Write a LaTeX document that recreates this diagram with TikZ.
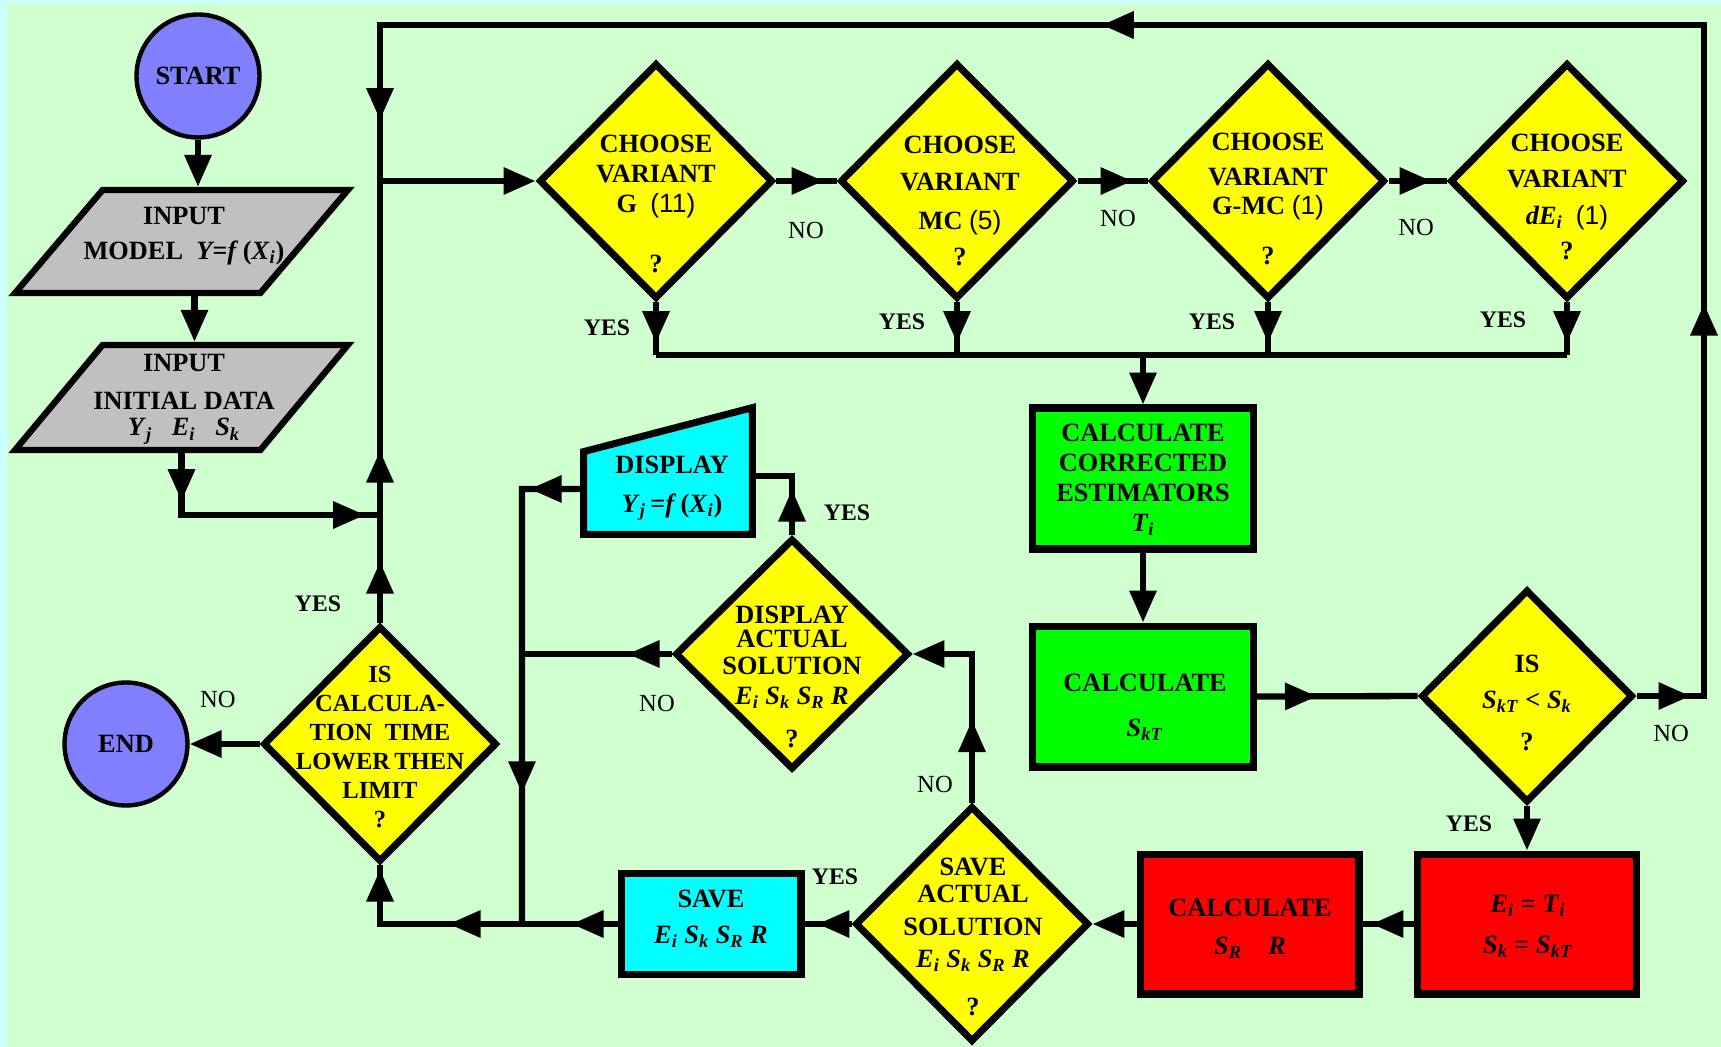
\documentclass[tikz,border=0pt]{standalone}
\usepackage{fontspec}
\setmainfont{Liberation Serif}
\newfontfamily\numfont{Liberation Sans}
\usetikzlibrary{positioning,calc,arrows.meta,shapes.geometric,decorations.markings}
\definecolor{pagecyan}{HTML}{CCFFFF}
\definecolor{pagegreen}{HTML}{D0FFD0}
\definecolor{termblue}{HTML}{8080FF}
\definecolor{inputgray}{HTML}{C0C0C0}
\definecolor{askyellow}{HTML}{FFFF00}
\definecolor{calcgreen}{HTML}{00FF00}
\definecolor{showcyan}{HTML}{00FFFF}
\definecolor{updred}{HTML}{FF0000}
\newcommand\vv[2]{\textit{#1}\textsubscript{\textit{#2}}}
\newcommand\cnt[1]{{\numfont\mdseries #1}}
\tikzset{
  flow/.style={line width=3.6pt},
  tipend/.style={-{Triangle[length=6.4mm,width=5.2mm]}},
  % arrow heads sit somewhere along the line, not only at its end
  arrowat/.style={postaction={decorate,decoration={markings,
      mark=at position #1 with {\arrow{Triangle[length=6.4mm,width=5.2mm]}}}}},
  term/.style={circle,draw,line width=2.5pt,fill=termblue,minimum size=2.46cm,inner sep=0,
               font=\fontsize{15}{17}\selectfont\bfseries},
  inbox/.style={trapezium,trapezium left angle=61,trapezium right angle=119,trapezium stretches=true,
                draw,line width=3.6pt,fill=inputgray,minimum width=6.66cm,minimum height=2.06cm,inner sep=2pt},
  ask/.style={diamond,draw,line width=4pt,fill=askyellow,minimum width=4.68cm,minimum height=4.72cm,inner sep=1pt},
  calcbox/.style={rectangle,draw,line width=4pt,fill=calcgreen,minimum width=4.42cm,minimum height=2.82cm,inner sep=1pt},
  updbox/.style={rectangle,draw,line width=4pt,fill=updred,minimum width=4.38cm,minimum height=2.8cm,inner sep=1pt},
  showbox/.style={rectangle,draw,line width=4pt,fill=showcyan,minimum width=3.6cm,minimum height=2.02cm,inner sep=1pt},
  showshape/.style={draw,line width=4pt,fill=showcyan},
  txt/.style={align=center,inner sep=0,font=\fontsize{15}{17}\selectfont\bfseries},
  yeslab/.style={font=\fontsize{13.5}{15}\selectfont\bfseries},
  nolab/.style={font=\fontsize{14}{16}\selectfont},
}
\begin{document}
\begin{tikzpicture}[x=0.02cm,y=-0.02cm]
  \useasboundingbox (0,0) rectangle (1721,1047);
  \fill[pagecyan] (0,0) rectangle (1721,1047);
  \fill[pagegreen] (7,3) rectangle (1721,1047);

  % start and input data
  \node[term] (start) at (198,76) {START};
  \node[inbox] (in1) at (181.5,241.5) {};
  \node[txt] (in1t) at (184,236) {INPUT\\[0.1cm]MODEL~~\textit{Y=f}\,(\vv{X}{i})};
  \node[inbox,minimum height=2.1cm] (in2) at (181.5,397.5) {};
  \node[txt] (in2t) at (184,399) {INPUT\\[0.16cm]INITIAL DATA\\[-0.06cm]\vv{Y}{j}~~~\vv{E}{i}~~~\vv{S}{k}};

  % variant choice
  \node[ask] (d1) at (656,181) {};
  \node[txt] (d1t) at (656,204) {CHOOSE\\VARIANT\\G~~\cnt{(11)}\\[0.6cm]?};
  \node[ask] (d2) at (957,181) {};
  \node[txt] (d2t) at (960,201) {CHOOSE\\[0.15cm]VARIANT\\[0.18cm]MC \cnt{(5)}\\[0.12cm]?};
  \node[ask] (d3) at (1268,181) {};
  \node[txt] (d3t) at (1268,199) {CHOOSE\\[0.1cm]VARIANT\\G-MC \cnt{(1)}\\[0.4cm]?};
  \node[ask] (d4) at (1567,181) {};
  \node[txt] (d4t) at (1567,197) {CHOOSE\\[0.12cm]VARIANT\\[0.14cm]\vv{dE}{i}~~\cnt{(1)}\\[0.1cm]?};

  % estimators
  \node[calcbox] (cce) at (1143,478.5) {};
  \node[txt] (ccet) at (1143,480) {CALCULATE\\CORRECTED\\ESTIMATORS\\\vv{T}{i}};
  \node[calcbox] (csk) at (1143,696.5) {};
  \node[txt] (cskt) at (1145,707) {CALCULATE\\[0.3cm]\vv{S}{kT}};
  \node[ask,minimum width=4.24cm,minimum height=4.26cm] (isd) at (1527,696) {};
  \node[txt] (isdt) at (1527,703) {IS\\[0.12cm]\vv{S}{kT} < \vv{S}{k}\\[0.26cm]?};
  \node[updbox] (red1) at (1527,924) {};
  \node[txt] (red1t) at (1528,926) {\vv{E}{i} = \vv{T}{i}\\[0.22cm]\vv{S}{k} = \vv{S}{kT}};
  \node[updbox] (red2) at (1249.5,924) {};
  \node[txt] (red2t) at (1250,929) {CALCULATE\\[0.16cm]\vv{S}{R}\quad\textit{R}};

  % save and display
  \node[ask] (saved) at (972,924) {};
  \node[txt] (savedt) at (973,937) {SAVE\\[-0.06cm]ACTUAL\\[0.06cm]SOLUTION\\[0.06cm]\vv{E}{i} \vv{S}{k} \vv{S}{R} \textit{R}\\[0.36cm]?};
  \node[showbox] (sbox) at (711,924) {};
  \node[txt] (sboxt) at (711,919) {SAVE\\[0.12cm]\vv{E}{i} \vv{S}{k} \vv{S}{R} \textit{R}};
  \node[ask,minimum height=4.62cm] (dad) at (792,654) {};
  \node[txt] (dadt) at (792,677) {DISPLAY\\[-0.12cm]ACTUAL\\[-0.06cm]SOLUTION\\\vv{E}{i} \vv{S}{k} \vv{S}{R} \textit{R}\\[0.26cm]?};
  \node[minimum width=3.36cm,minimum height=2.52cm,inner sep=0] (disp) at (668,471) {};
  \draw[showshape] (disp.south west) -- ([yshift=-0.88cm]disp.north west) -- (disp.north east) -- (disp.south east) -- cycle;
  \node[txt] (dispt) at (672,488) {DISPLAY\\[0.18cm]\vv{Y}{j}\,=\textit{f}\,(\vv{X}{i})};

  % time limit and end
  \node[ask] (tcd) at (380,744) {};
  \node[txt,font=\fontsize{14}{16.5}\selectfont\bfseries] (tcdt) at (380,747) {IS\\CALCULA-\\TION~~TIME\\LOWER\,THEN\\LIMIT\\?};
  \node[term] (endc) at (126,744) {END};

  \coordinate (ne) at (1704,25);
  \coordinate (nw) at (380,25);
  \coordinate (jd) at (380,181);
  \coordinate (jin) at (380,515);
  \coordinate (ybus) at (1143,355);
  \coordinate (ltop) at (522,489);
  \coordinate (lbus) at (522,924);

  % connectors
  \draw[flow,tipend] (start.south) -- (start.south |- in1.north);
  \draw[flow,tipend] ([xshift=0.26cm]in1.south) -- ([xshift=0.26cm]in2.north);
  \draw[flow,arrowat=0.96cm,arrowat=4.91cm] (in2.south) |- (jin);
  \draw[flow,tipend,arrowat=1.08cm,arrowat=9.2cm,arrowat=26.82cm,arrowat=43.16cm]
    (isd.east) -- (isd.east -| ne) -- (ne) -- (nw) -- (jd) -- (d1.west);
  \draw[flow,arrowat=1.22cm,arrowat=3.44cm] (tcd.north) -- (jd);
  \draw[flow,arrowat=-0.26cm] (d1.east) -- (d2.west);
  \draw[flow,arrowat=-0.3cm] (d2.east) -- (d3.west);
  \draw[flow,arrowat=-0.3cm] (d3.east) -- (d4.west);
  \draw[flow,arrowat=-0.24cm] (d1.south) -- (d1.south |- ybus);
  \draw[flow,arrowat=-0.24cm] (d2.south) -- (d2.south |- ybus);
  \draw[flow,arrowat=-0.24cm] (d3.south) -- (d3.south |- ybus);
  \draw[flow,arrowat=-0.24cm] (d4.south) -- (d4.south |- ybus);
  \draw[flow] (d1.south |- ybus) -- (d4.south |- ybus);
  \draw[flow,tipend] (ybus) -- (cce.north);
  \draw[flow,tipend] (cce.south) -- (csk.north);
  \draw[flow,arrowat=1.2cm] (csk.east) -- (isd.west);
  \draw[flow,tipend] (isd.south) -- (red1.north);
  \draw[flow,arrowat=-0.18cm] (red1.west) -- (red2.east);
  \draw[flow,tipend] (red2.west) -- (saved.east);
  \draw[flow,arrowat=-0.26cm] (saved.west) -- (sbox.east);
  \draw[flow,arrowat=0.92cm,arrowat=3.38cm,arrowat=5.84cm] (sbox.west) -- (tcd.south |- sbox.west) -- (tcd.south);
  \draw[flow,tipend,arrowat=1.65cm] (saved.north) |- (dad.east);
  \draw[flow,arrowat=0.91cm] (dad.north) |- ([yshift=-0.1cm]disp.east);
  \draw[flow,arrowat=1.08cm,arrowat=7.32cm] ([yshift=-0.36cm]disp.west) -- (ltop) -- (lbus);
  \draw[flow,arrowat=0.88cm] (dad.west) -- (dad.west -| lbus);
  \draw[flow,tipend] (tcd.west) -- (endc.east);

  % branch labels
  \node[yeslab] (y1) at (607,328) {YES};
  \node[yeslab] (y2) at (902,322) {YES};
  \node[yeslab] (y3) at (1212,322) {YES};
  \node[yeslab] (y4) at (1503,320) {YES};
  \node[nolab] (n1) at (806,230) {NO};
  \node[nolab] (n2) at (1118,218) {NO};
  \node[nolab] (n3) at (1416,227) {NO};
  \node[nolab] (n4) at (1671,733) {NO};
  \node[yeslab] (y5) at (1469,824) {YES};
  \node[yeslab] (y6) at (847,513) {YES};
  \node[nolab] (n5) at (657,703) {NO};
  \node[nolab] (n6) at (935,784) {NO};
  \node[yeslab] (y7) at (835,877) {YES};
  \node[yeslab] (y8) at (318,604) {YES};
  \node[nolab] (n7) at (218,699) {NO};
\end{tikzpicture}
\end{document}
